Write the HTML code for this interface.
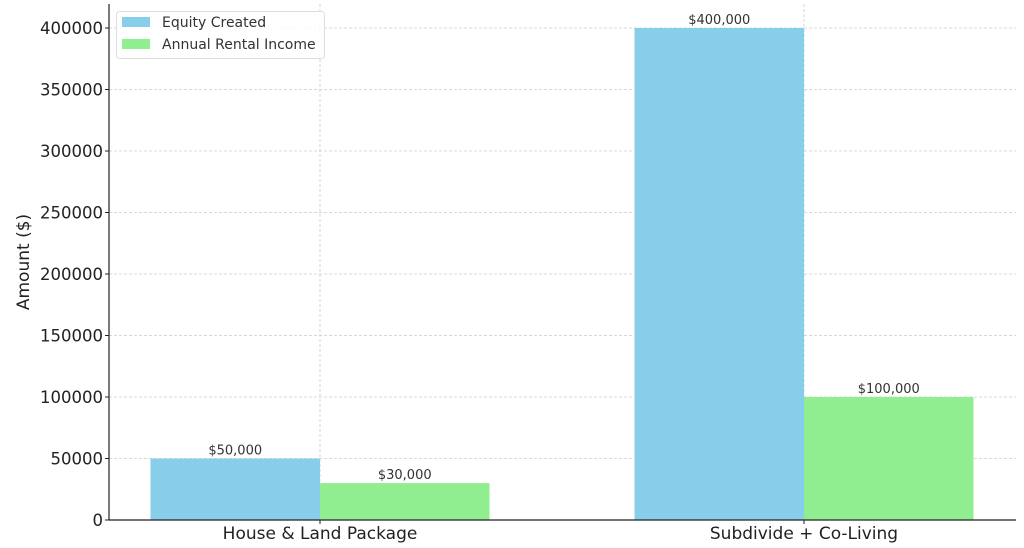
<!DOCTYPE html>
<html><head><meta charset="utf-8"><style>
body{margin:0;background:#fff;}
svg{display:block;font-family:"DejaVu Sans","Liberation Sans",sans-serif;}
</style></head><body>
<svg id="chart" width="1024" height="548"></svg>
<script>
const categories=["House & Land Package","Subdivide + Co-Living"];
const equityValues=[50000,400000];
const rentalValues=[30000,100000];
const yTicks=[0,50000,100000,150000,200000,250000,300000,350000,400000];
const equityLabels=["$50,000","$400,000"];
const rentalLabels=["$30,000","$100,000"];
const NS="http://www.w3.org/2000/svg";
const svg=document.getElementById('chart');
const L=109,R=1016,T=4,B=520;
const y=v=>B-(v/400000)*492;
const xc=i=>320+i*484;
const bw=169.5;
function mk(tag,attrs,parent){const e=document.createElementNS(NS,tag);for(const k in attrs)e.setAttribute(k,attrs[k]);(parent||svg).appendChild(e);return e;}
yTicks.forEach(t=>{
  const g=mk('line',{x1:L,x2:R,y1:y(t),y2:y(t),stroke:'#ccc','stroke-dasharray':'3,2','stroke-width':0.8});
  
  
});
categories.forEach((c,i)=>{
  const g=mk('line',{x1:xc(i),x2:xc(i),y1:T,y2:B,stroke:'#ccc','stroke-dasharray':'3,2','stroke-width':0.8});
  
  
});
categories.forEach((c,i)=>{
  const b1=mk('rect',{x:xc(i)-bw,y:y(equityValues[i]),width:bw,height:B-y(equityValues[i]),fill:'#87ceeb'});
  
  
  const b2=mk('rect',{x:xc(i),y:y(rentalValues[i]),width:bw,height:B-y(rentalValues[i]),fill:'#90ee90'});
  
  
  const t1=mk('text',{x:xc(i)-bw/2,y:y(equityValues[i])-4,'text-anchor':'middle','font-size':13,fill:'#333'});
  t1.textContent=equityLabels[i];
  
  
  const t2=mk('text',{x:xc(i)+bw/2,y:y(rentalValues[i])-4,'text-anchor':'middle','font-size':13,fill:'#333'});
  t2.textContent=rentalLabels[i];
  
  
  const xl=mk('text',{x:xc(i),y:539,'text-anchor':'middle','font-size':17,fill:'#222'});
  xl.textContent=c;
  
  
  const tk=mk('line',{x1:xc(i),x2:xc(i),y1:B,y2:B+4,stroke:'#222'});
  
  
});
yTicks.forEach(t=>{
  const tl=mk('text',{x:L-6,y:y(t)+6,'text-anchor':'end','font-size':16.5,fill:'#222'});
  tl.textContent=t;
  
  
  const tk=mk('line',{x1:L-4,x2:L,y1:y(t),y2:y(t),stroke:'#222'});
  
  
});
const ax1=mk('line',{x1:L,x2:L,y1:T,y2:B,stroke:'#222','stroke-width':1.2});


const ax2=mk('line',{x1:L,x2:R,y1:B,y2:B,stroke:'#222','stroke-width':1.2});


const yt=mk('text',{x:0,y:0,'text-anchor':'middle','font-size':17,fill:'#222',transform:'translate(29,262) rotate(-90)'});
yt.textContent='Amount ($)';


const lg=mk('g',{});


mk('rect',{x:116.5,y:11.5,width:208,height:47,rx:3,fill:'#fff','fill-opacity':0.85,stroke:'#ddd'},lg);
const names=['Equity Created','Annual Rental Income'],cols=['#87ceeb','#90ee90'];
names.forEach((n,i)=>{
  const sw=mk('rect',{x:122,y:17+i*22,width:28,height:10,fill:cols[i]},lg);
  
  
  const t=mk('text',{x:162,y:27+i*22,'font-size':14,fill:'#333'},lg);
  t.textContent=n;
  
  
});
</script>
</body></html>
